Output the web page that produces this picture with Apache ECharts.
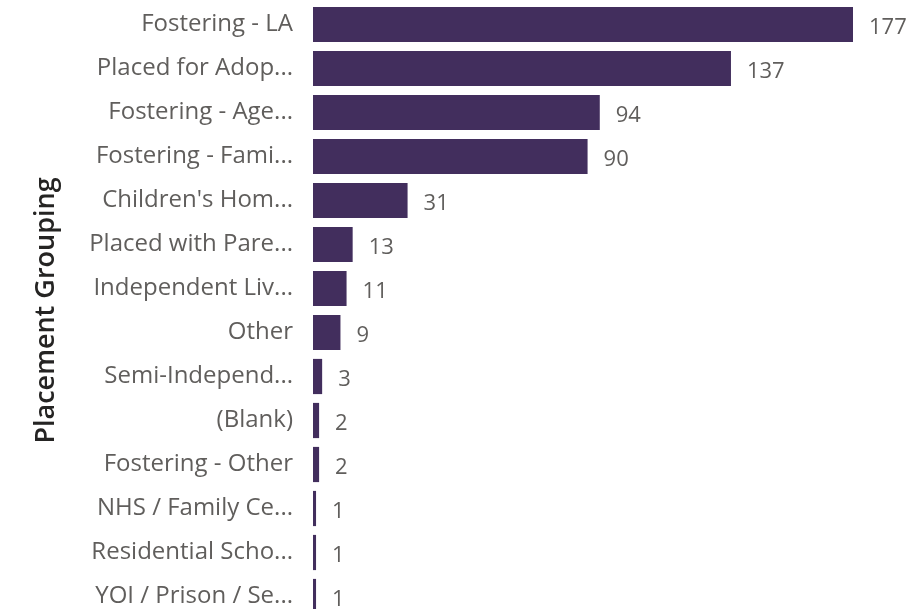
<!DOCTYPE html>
<html>
<head>
<meta charset="utf-8">
<script src="https://cdn.jsdelivr.net/npm/echarts@6/dist/echarts.min.js"></script>
<style>
  html, body { margin: 0; padding: 0; background: #fff; }
  #chart { width: 922px; height: 609px; }
</style>
</head>
<body>
<div id="chart"></div>
<script>
// placement groupings, as shown (already truncated in the source chart)
var categories = [
  'Fostering - LA', 'Placed for Adop...', 'Fostering - Age...', 'Fostering - Fami...',
  "Children's Hom...", 'Placed with Pare...', 'Independent Liv...', 'Other',
  'Semi-Independ...', '(Blank)', 'Fostering - Other', 'NHS / Family Ce...',
  'Residential Scho...', 'YOI / Prison / Se...'
];
var counts = [177, 137, 94, 90, 31, 13, 11, 9, 3, 2, 2, 1, 1, 1];

var font = '"Open Sans", "Noto Sans", sans-serif';

var myChart = echarts.init(document.getElementById('chart'));
var option = {
  animation: false,
  grid: {
    left: 313,
    top: 2.5,
    width: 540,
    height: 616,
    outerBoundsMode: 'none'
  },
  xAxis: {
    type: 'value',
    min: 0,
    max: 177,
    show: false
  },
  yAxis: {
    type: 'category',
    inverse: true,
    data: categories,
    axisLine: { show: false },
    axisTick: { show: false },
    axisLabel: {
      margin: 20,
      color: '#605E5C',
      fontFamily: font,
      fontSize: 24
    },
    name: 'Placement Grouping',
    nameLocation: 'middle',
    nameGap: 253,
    nameTextStyle: {
      color: '#252423',
      fontFamily: font,
      fontSize: 27,
      fontWeight: 600
    }
  },
  series: [{
    type: 'bar',
    data: counts,
    barCategoryGap: '20%',
    itemStyle: { color: '#422E5D' },
    label: {
      show: true,
      position: 'right',
      distance: 16,
      offset: [0, 3],
      color: '#605E5C',
      fontFamily: font,
      fontSize: 22
    }
  }]
};
myChart.setOption(option);
</script>
</body>
</html>
